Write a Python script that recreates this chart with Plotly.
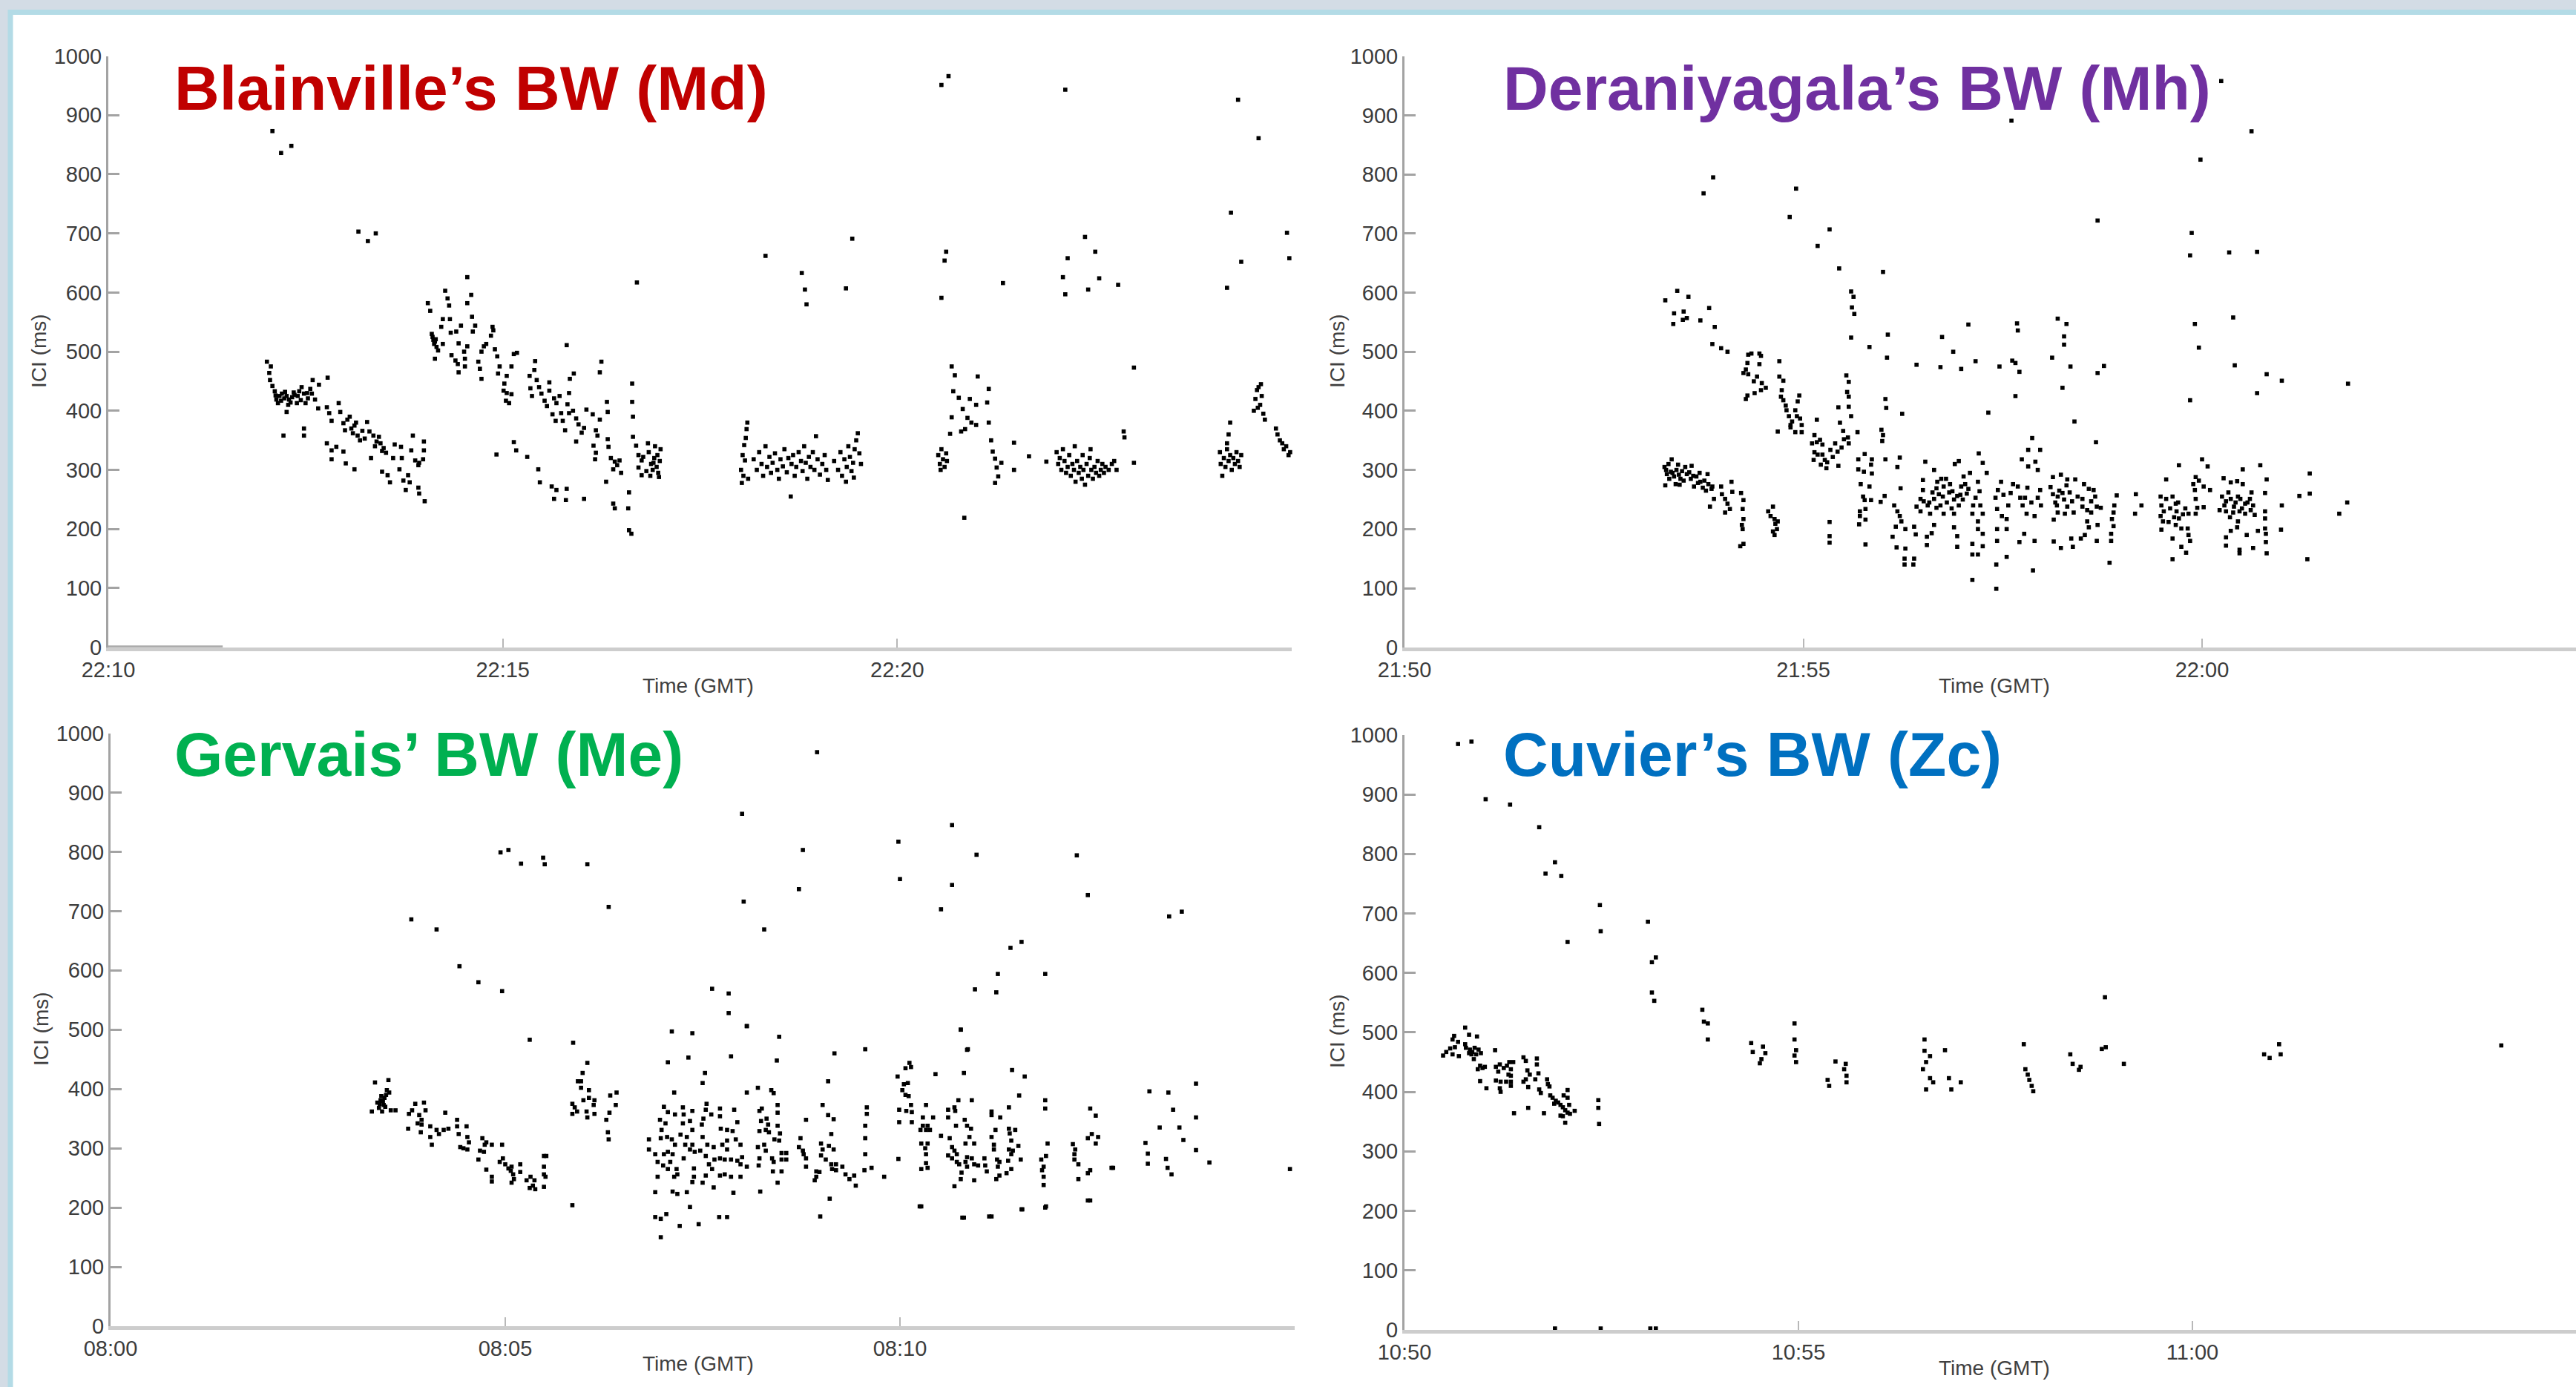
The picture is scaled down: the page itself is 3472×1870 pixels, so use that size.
import plotly.graph_objects as go

W, H = 3472, 1870

# ---------------- tick labels ----------------
TICK_MINUTES = [0, 5, 10]
MD_TICK_LABELS = ["22:10", "22:15", "22:20"]
MH_TICK_LABELS = ["21:50", "21:55", "22:00"]
ME_TICK_LABELS = ["08:00", "08:05", "08:10"]
ZC_TICK_LABELS = ["10:50", "10:55", "11:00"]
ICI_TICKS = [0, 100, 200, 300, 400, 500, 600, 700, 800, 900, 1000]

# ---------------- data: (minutes after first tick, ICI in ms) ----------------
MD_POINTS = [
    (2.08, 873), (2.19, 836), (2.32, 848), (3.17, 703), (3.29, 687), (3.39, 700),
    (2.01, 483), (2.06, 475), (2.04, 464), (2.05, 452), (2.08, 442), (2.11, 433), (2.13, 419), (2.15, 413), (2.20, 429), (2.23, 421),
    (2.26, 425), (2.29, 419), (2.33, 423), (2.36, 427), (2.39, 413), (2.42, 433), (2.45, 440), (2.48, 429), (2.50, 413), (2.53, 421),
    (2.56, 437), (2.59, 452), (2.58, 429), (2.62, 419), (2.67, 444), (2.66, 404), (2.78, 456), (2.26, 398), (2.22, 358), (2.48, 370),
    (2.48, 358), (2.77, 406), (2.80, 396), (2.83, 383), (2.92, 413), (2.94, 398), (2.98, 379), (3.00, 367), (3.06, 390), (3.08, 370),
    (3.12, 375), (3.16, 358), (3.19, 350), (3.28, 381), (3.31, 365), (3.36, 358), (3.40, 348), (3.45, 345), (3.49, 337), (3.52, 329),
    (2.77, 345), (2.83, 333), (2.89, 339), (2.83, 318), (2.98, 331), (3.01, 311), (3.12, 301), (3.33, 320), (3.47, 297), (3.54, 291),
    (3.57, 279), (3.63, 343), (3.61, 320), (3.71, 339), (3.72, 320), (3.69, 301), (3.74, 282), (3.77, 266), (3.80, 291), (3.82, 279),
    (3.86, 358), (3.84, 333), (3.89, 316), (3.94, 312), (3.93, 308), (3.99, 318), (4.00, 348), (4.00, 333), (3.93, 270), (3.94, 260),
    (4.01, 247), (2.17, 425), (2.19, 417), (2.24, 432), (2.31, 414), (2.35, 431), (2.40, 425), (2.44, 418), (2.52, 430), (2.12, 426),
    (2.28, 410), (3.03, 385), (3.10, 362), (3.14, 380), (3.22, 366), (3.25, 353), (3.38, 340), (3.43, 356), (3.47, 332),
    (4.05, 582), (4.08, 569), (4.11, 525), (4.14, 517), (4.15, 521), (4.13, 513), (4.24, 513), (4.14, 488), (4.22, 542), (4.24, 555),
    (4.33, 555), (4.27, 603), (4.30, 590), (4.32, 578), (4.34, 532), (4.41, 534), (4.47, 544), (4.55, 626), (4.55, 582), (4.60, 596),
    (4.61, 559), (4.65, 544), (4.62, 534), (4.35, 494), (4.40, 485), (4.43, 479), (4.44, 465), (4.44, 514), (4.51, 500), (4.52, 488),
    (4.52, 475), (4.55, 509), (4.69, 483), (4.71, 471), (4.73, 454), (4.73, 500), (4.76, 509), (4.79, 513), (4.87, 542), (4.88, 536),
    (4.85, 527), (4.90, 504), (4.93, 492), (4.96, 475), (4.94, 463), (5.05, 459), (5.02, 446), (5.01, 434), (5.05, 430), (5.11, 428),
    (5.08, 413), (5.04, 417), (5.14, 496), (5.18, 498), (5.11, 475), (5.34, 459), (5.40, 469), (5.41, 484), (5.43, 452), (5.35, 438),
    (5.37, 425), (5.46, 440), (5.49, 429), (5.53, 417), (5.56, 408), (5.59, 448), (5.59, 434), (5.65, 421), (5.72, 425), (5.68, 413),
    (5.63, 394), (5.67, 383), (5.74, 396), (5.76, 383), (5.79, 367), (5.84, 396), (5.89, 400), (5.90, 463), (5.85, 454), (5.84, 430),
    (5.82, 411), (5.81, 511), (5.93, 387), (5.96, 377), (6.00, 363), (6.06, 402), (6.14, 394), (5.93, 348), (6.03, 371), (6.18, 367),
    (6.20, 358), (6.23, 385), (6.25, 483), (6.23, 465), (6.32, 415), (6.33, 398), (6.15, 341), (6.18, 329), (6.17, 318), (6.33, 352),
    (6.34, 339), (6.37, 320), (6.42, 314), (6.45, 308), (6.48, 316), (6.50, 295), (6.40, 301), (6.31, 280), (6.64, 446), (6.64, 415),
    (6.65, 390), (6.65, 356), (6.69, 341), (6.72, 325), (6.72, 304), (6.76, 316), (6.76, 291), (6.70, 617), (6.60, 262), (6.59, 235),
    (6.60, 198), (6.63, 192), (6.40, 243), (6.42, 235), (4.12, 520), (4.16, 508), (4.10, 530), (4.18, 502),
    (4.92, 326), (5.14, 347), (5.17, 333), (5.31, 322), (5.45, 301), (5.47, 279), (5.62, 272), (5.68, 266), (5.65, 251), (5.81, 268),
    (5.80, 249), (6.03, 251),
    (6.85, 330), (6.88, 310), (6.90, 300), (6.92, 320), (6.95, 305), (6.97, 295), (6.99, 315), (7.00, 335), (6.87, 290), (6.93, 340),
    (6.82, 298), (6.78, 322), (6.96, 325), (6.98, 288), (6.84, 345), (6.91, 312),
    (8.02, 300), (8.03, 278), (8.04, 325), (8.05, 290), (8.06, 342), (8.08, 354), (8.09, 369), (8.10, 380), (8.07, 316), (8.11, 285),
    (8.18, 318), (8.22, 300), (8.25, 330), (8.28, 310), (8.30, 290), (8.33, 340), (8.35, 305), (8.38, 322), (8.40, 295), (8.42, 312),
    (8.45, 328), (8.48, 300), (8.50, 285), (8.52, 318), (8.55, 306), (8.57, 335), (8.60, 296), (8.62, 320), (8.65, 255), (8.66, 310),
    (8.68, 325), (8.70, 290), (8.72, 305), (8.75, 330), (8.78, 315), (8.80, 298), (8.82, 340), (8.84, 312), (8.86, 285), (8.88, 322),
    (8.90, 305), (8.93, 330), (8.95, 300), (8.97, 357), (8.99, 318), (9.02, 292), (9.05, 310), (9.08, 325), (9.10, 300), (9.12, 283),
    (9.20, 315), (9.25, 300), (9.28, 330), (9.30, 290), (9.33, 318), (9.36, 305), (9.38, 340), (9.40, 322), (9.42, 298), (9.44, 312),
    (9.46, 335), (9.48, 350), (9.50, 362), (9.52, 328), (9.54, 310), (9.35, 280), (9.45, 287),
    (8.33, 662), (8.79, 633), (8.83, 605), (8.85, 580), (9.35, 607), (9.43, 691),
    (10.52, 325), (10.54, 310), (10.56, 335), (10.58, 318), (10.60, 305), (10.62, 328), (10.55, 300), (10.63, 315),
    (10.69, 475), (10.73, 460), (10.71, 433), (10.69, 389), (10.67, 361), (10.78, 422), (10.83, 403), (10.89, 388), (10.94, 380), (10.86, 369),
    (10.92, 420), (11.00, 410), (11.00, 376), (11.16, 437), (11.14, 414), (11.16, 380), (10.81, 365), (11.02, 458),
    (11.21, 331), (11.24, 319), (11.26, 304), (11.28, 289), (11.24, 278), (11.32, 312), (11.19, 350),
    (10.85, 219), (11.48, 300), (11.48, 346), (11.67, 323), (11.89, 314), (11.34, 616),
    (10.56, 951), (10.65, 966), (10.62, 669), (10.60, 654), (10.56, 591),
    (12.02, 330), (12.04, 310), (12.06, 320), (12.08, 300), (12.10, 335), (12.12, 315), (12.14, 295), (12.16, 305), (12.18, 325), (12.20, 290),
    (12.22, 310), (12.24, 300), (12.26, 280), (12.28, 315), (12.30, 295), (12.32, 305), (12.34, 285), (12.36, 300), (12.38, 275), (12.40, 310),
    (12.42, 290), (12.44, 320), (12.46, 300), (12.48, 285), (12.50, 305), (12.52, 295), (12.54, 315), (12.56, 290), (12.58, 300), (12.60, 310),
    (12.25, 340), (12.35, 325), (12.45, 335), (12.62, 295), (12.64, 305), (12.68, 300), (12.72, 310), (12.75, 315), (12.78, 300), (12.87, 365),
    (12.88, 355), (13.00, 312),
    (12.13, 943), (12.16, 658), (12.10, 626), (12.13, 597), (12.38, 694), (12.51, 669), (12.42, 605), (12.56, 624), (12.80, 613), (13.00, 473),
    (14.09, 330), (14.10, 310), (14.12, 290), (14.14, 320), (14.16, 305), (14.18, 335), (14.20, 315), (14.22, 325), (14.24, 300), (14.26, 320),
    (14.28, 310), (14.30, 330), (14.32, 315), (14.34, 305), (14.36, 325), (14.22, 380), (14.20, 360), (14.18, 345),
    (14.52, 400), (14.54, 420), (14.56, 435), (14.58, 440), (14.60, 410), (14.62, 425), (14.64, 395), (14.66, 385), (14.57, 405), (14.61, 445),
    (14.80, 370), (14.82, 360), (14.85, 350), (14.88, 345), (14.90, 335), (14.93, 340), (14.96, 325), (14.98, 330),
    (14.18, 608), (14.23, 735), (14.32, 926), (14.36, 652), (14.58, 861), (14.94, 701), (14.97, 658),
]

MH_POINTS = [
    (3.27, 587), (3.42, 603), (3.56, 593), (3.38, 565), (3.50, 568), (3.49, 554), (3.54, 557), (3.37, 547), (3.71, 553), (3.82, 574),
    (3.89, 542), (3.86, 513), (3.97, 506), (4.05, 500),
    (4.31, 495), (4.35, 497), (4.45, 497), (4.47, 493), (4.45, 479), (4.30, 481), (4.28, 470), (4.31, 462), (4.25, 464), (4.38, 450),
    (4.42, 458), (4.48, 447), (4.53, 439), (4.47, 435), (4.39, 430), (4.30, 426), (4.28, 420),
    (4.70, 484), (4.70, 458), (4.75, 451), (4.73, 435), (4.72, 424), (4.75, 418), (4.78, 409), (4.79, 401), (4.82, 391), (4.86, 382),
    (4.84, 376), (4.90, 401), (4.93, 416), (4.95, 426), (4.92, 391), (4.96, 387), (4.98, 376), (4.84, 372), (4.68, 365), (4.90, 364),
    (4.98, 364),
    (5.17, 385), (5.14, 359), (5.11, 345), (5.17, 347), (5.21, 351), (5.24, 343), (5.14, 330), (5.18, 326), (5.24, 326), (5.27, 317),
    (5.30, 313), (5.34, 334), (5.37, 322), (5.29, 303), (5.22, 309), (5.13, 317), (5.40, 345), (5.43, 331), (5.48, 338), (5.51, 352),
    (5.56, 355), (5.50, 366), (5.46, 380), (5.57, 345), (5.44, 307),
    (5.54, 460), (5.57, 449), (5.55, 432), (5.57, 424), (5.57, 407), (5.60, 391), (5.44, 406),
    (5.60, 602), (5.63, 593), (5.61, 575), (5.64, 564), (5.60, 524), (5.83, 508), (6.06, 529), (6.05, 490),
    (5.68, 364), (5.69, 318), (5.77, 327), (5.86, 318), (5.69, 301), (5.76, 297), (5.85, 309), (5.86, 294), (5.72, 276), (5.83, 272),
    (5.75, 255), (5.77, 249), (5.85, 249), (5.71, 230), (5.78, 234), (5.71, 222), (5.78, 216), (5.70, 208), (5.78, 174), (5.98, 368),
    (6.00, 359), (5.99, 349), (6.03, 318), (6.03, 420), (6.04, 405), (6.24, 395), (6.21, 321), (6.18, 305), (6.22, 269), (6.02, 256),
    (5.97, 246), (5.33, 212), (5.33, 188), (5.33, 177),
    (3.26, 305), (3.29, 293), (3.35, 318), (3.34, 297), (3.38, 289), (3.43, 309), (3.40, 276), (3.46, 285), (3.52, 305), (3.54, 293),
    (3.60, 307), (3.59, 285), (3.63, 272), (3.66, 289), (3.71, 280), (3.74, 270), (3.80, 293), (3.81, 276), (3.85, 268), (3.88, 251),
    (3.83, 238), (3.86, 272), (3.27, 274), (3.97, 272), (3.98, 259), (4.02, 251), (4.05, 243), (4.10, 280), (4.11, 263), (4.08, 234),
    (4.02, 228), (4.22, 261), (4.25, 249), (4.24, 234), (4.25, 217), (4.23, 207), (4.24, 200), (4.21, 171), (4.25, 175),
    (3.28, 300), (3.31, 310), (3.36, 295), (3.41, 300), (3.44, 292), (3.48, 298), (3.50, 282), (3.57, 296), (3.62, 290), (3.68, 278),
    (3.70, 295), (3.76, 282), (3.78, 265), (3.32, 285), (3.45, 275),
    (4.62, 238), (4.56, 230), (4.59, 222), (4.64, 217), (4.65, 209), (4.67, 200), (4.64, 190), (4.62, 196), (4.68, 213),
    (6.14, 240), (6.18, 230), (6.21, 222), (6.23, 213), (6.16, 204), (6.28, 200), (6.12, 187), (6.17, 169), (6.28, 167), (6.27, 150),
    (6.27, 140), (6.39, 150), (6.38, 140), (6.39, 204), (6.41, 191), (6.42, 238), (6.47, 251), (6.50, 266), (6.50, 283), (6.53, 314),
    (6.56, 240), (6.59, 226), (6.64, 251), (6.64, 300), (6.67, 236), (6.64, 207), (6.61, 193), (6.55, 173), (6.55, 187), (6.70, 259),
    (6.73, 285), (6.76, 272), (6.79, 285), (6.84, 276), (6.87, 264), (6.89, 250), (6.93, 256), (6.95, 240), (6.98, 272), (7.03, 276),
    (7.07, 268), (7.01, 289), (6.90, 310), (6.95, 315), (7.09, 295), (6.89, 226), (6.89, 203), (6.93, 188), (6.93, 170), (6.67, 269),
    (6.72, 240), (6.76, 226), (6.51, 247), (6.47, 230), (7.13, 240), (7.16, 253), (7.12, 226), (7.19, 280), (7.21, 264), (7.22, 240),
    (7.25, 226), (7.19, 213), (7.19, 200), (7.25, 192), (7.25, 171), (7.12, 175), (7.12, 157), (7.19, 157), (7.12, 114), (7.20, 328),
    (7.25, 312), (7.30, 295), (7.32, 397), (7.41, 253), (7.44, 266), (7.48, 280), (7.51, 258), (7.43, 234), (7.49, 222), (7.55, 217),
    (7.57, 240), (7.60, 261), (7.69, 272), (7.63, 276), (7.72, 253), (7.75, 240), (7.78, 253), (7.81, 270), (7.80, 226), (7.86, 245),
    (7.90, 222), (7.94, 253), (7.97, 266), (7.98, 240), (7.90, 180), (7.55, 200), (7.43, 200), (7.43, 180), (7.55, 153), (7.42, 140),
    (7.42, 99), (7.71, 178), (7.77, 192), (7.88, 130),
    (6.75, 255), (6.80, 245), (6.83, 262), (6.86, 235), (6.97, 258), (7.00, 250), (7.05, 260), (6.68, 280), (6.62, 262), (6.58, 245),
    (6.42, 478), (6.72, 474), (6.74, 525), (6.88, 500), (6.98, 471), (7.07, 546), (7.16, 484), (7.46, 475), (7.62, 485), (7.66, 481),
    (7.71, 466), (7.68, 548), (7.69, 536), (7.66, 425), (7.87, 354), (7.82, 334), (7.97, 334), (7.74, 318), (7.82, 306), (7.91, 314),
    (7.94, 300),
    (8.19, 556), (8.30, 547), (8.27, 526), (8.27, 512), (8.12, 490), (8.35, 475), (8.69, 464), (8.77, 476), (8.25, 439), (8.40, 382),
    (8.67, 347), (9.85, 418), (9.91, 547), (9.96, 507), (10.39, 558), (10.41, 477), (10.81, 462), (10.69, 430), (11.00, 451), (11.83, 446),
    (8.13, 288), (8.23, 292), (8.10, 271), (8.13, 259), (8.19, 255), (8.25, 261), (8.31, 284), (8.30, 274), (8.41, 284), (8.52, 276),
    (8.37, 247), (8.31, 238), (8.19, 228), (8.14, 216), (8.28, 226), (8.39, 228), (8.50, 251), (8.50, 238), (8.58, 268), (8.64, 266),
    (8.66, 255), (8.61, 247), (8.56, 232), (8.61, 228), (8.68, 238), (8.73, 236), (8.56, 213), (8.58, 203), (8.69, 207), (8.53, 190),
    (8.48, 184), (8.36, 184), (8.14, 179), (8.23, 168), (8.38, 170), (8.68, 180), (8.93, 257), (8.90, 240), (8.89, 228), (8.87, 217),
    (8.89, 205), (8.86, 192), (8.86, 180), (8.84, 143), (9.17, 259), (9.24, 240), (9.16, 226),
    (8.16, 245), (8.21, 265), (8.27, 250), (8.34, 262), (8.44, 255), (8.18, 240),
    (9.48, 255), (9.49, 240), (9.52, 230), (9.48, 222), (9.51, 213), (9.49, 199), (9.55, 251), (9.63, 255), (9.67, 243), (9.68, 230),
    (9.71, 218), (9.67, 207), (9.74, 201), (9.79, 235), (9.83, 226), (9.82, 201), (9.83, 190), (9.85, 180), (9.63, 184), (9.74, 170),
    (9.80, 160), (9.63, 149), (9.71, 308), (9.55, 284), (9.92, 288), (9.89, 276), (9.91, 266), (9.96, 282), (10.02, 272), (10.10, 266),
    (10.00, 318), (10.07, 306), (9.92, 251), (9.94, 236), (10.02, 237), (9.92, 226),
    (9.60, 235), (9.65, 220), (9.70, 245), (9.76, 225), (9.58, 212),
    (10.27, 286), (10.36, 279), (10.44, 281), (10.51, 276), (10.51, 301), (10.73, 308), (10.81, 284), (10.25, 255), (10.30, 247), (10.36, 251),
    (10.42, 245), (10.48, 251), (10.54, 243), (10.60, 251), (10.64, 240), (10.22, 232), (10.30, 230), (10.39, 228), (10.47, 230), (10.54, 226),
    (10.61, 232), (10.66, 224), (10.45, 213), (10.44, 203), (10.36, 197), (10.56, 190), (10.70, 197), (10.30, 186), (10.30, 172), (10.47, 165),
    (10.47, 159), (10.64, 168), (10.79, 230), (10.79, 218), (10.79, 201), (10.80, 192), (10.80, 178), (10.81, 159), (10.79, 261), (11.00, 240),
    (10.99, 199), (11.22, 256), (11.35, 294), (11.35, 260), (11.32, 149), (11.72, 226), (11.82, 245),
    (10.28, 240), (10.33, 262), (10.40, 238), (10.45, 255), (10.50, 235), (10.57, 245), (10.62, 262), (10.35, 220),
    (3.75, 768), (3.87, 795), (4.91, 776), (4.83, 728), (5.18, 679), (5.33, 707), (5.45, 641), (6.00, 635), (7.61, 891), (8.69, 722),
    (10.24, 958), (9.98, 825), (10.62, 873), (9.87, 701), (9.85, 663), (10.34, 668), (10.69, 669),
]

ME_POINTS = [
    (3.35, 411), (3.52, 415), (3.31, 362), (3.38, 377), (3.42, 381), (3.46, 373), (3.49, 390), (3.50, 398), (3.53, 394), (3.44, 362),
    (3.47, 385), (3.55, 364), (3.61, 364), (3.41, 375), (3.40, 368), (3.45, 380), (3.48, 370), (3.43, 388),
    (3.78, 358), (3.82, 364), (3.86, 375), (3.97, 377), (3.99, 364), (3.91, 356), (3.94, 348), (3.89, 342), (3.94, 340), (3.77, 333),
    (3.93, 327), (4.05, 337), (4.05, 319), (4.07, 306), (4.13, 331), (4.16, 324), (4.24, 360), (4.22, 331), (4.28, 333), (4.39, 348),
    (4.39, 337), (4.41, 324), (4.51, 337), (4.52, 319), (4.54, 310), (4.43, 302), (4.47, 300), (4.52, 298), (4.71, 317), (4.74, 306),
    (4.76, 310), (4.68, 296), (4.73, 294), (4.66, 281), (4.83, 306), (4.96, 306), (4.76, 264), (4.83, 252), (4.83, 244), (4.93, 277),
    (4.97, 283), (5.00, 273), (5.04, 266), (5.07, 262), (5.10, 256), (5.08, 269), (5.11, 248), (5.19, 273), (5.19, 260), (5.08, 242),
    (5.27, 246), (5.32, 252), (5.37, 246), (5.31, 233), (5.38, 231), (5.35, 237), (5.49, 287), (5.52, 287), (5.49, 269), (5.49, 256),
    (5.51, 252), (5.49, 235), (5.31, 483), (5.86, 478), (6.04, 444), (5.98, 427), (5.92, 413), (5.96, 413), (5.96, 402), (6.06, 398),
    (5.99, 381), (6.06, 385), (5.85, 375), (5.88, 369), (5.91, 362), (5.85, 358), (6.03, 362), (6.04, 352), (6.13, 381), (6.13, 358),
    (6.12, 373), (6.33, 389), (6.41, 394), (6.40, 373), (6.32, 360), (6.28, 348), (6.30, 327), (6.31, 315), (5.85, 204),
    (7.11, 497), (7.37, 494), (8.06, 506), (7.86, 455), (7.32, 453), (7.06, 445), (7.53, 427), (7.50, 410), (7.14, 394), (8.06, 394),
    (7.01, 370), (7.06, 361), (7.15, 357), (7.25, 369), (7.26, 357), (7.37, 363), (7.55, 375), (7.54, 365), (7.72, 367), (7.72, 354),
    (7.90, 365), (7.94, 344), (6.96, 348), (7.03, 342), (7.25, 342), (7.34, 346), (7.37, 331), (7.49, 340), (7.51, 350), (7.61, 357),
    (7.73, 333), (7.81, 331), (7.88, 329), (6.98, 331), (6.82, 315), (6.82, 298), (6.97, 317), (7.05, 319), (7.11, 315), (7.15, 306),
    (7.22, 323), (7.30, 319), (7.28, 306), (7.37, 306), (7.50, 319), (7.56, 306), (7.64, 302), (7.75, 306), (7.81, 313), (7.92, 315),
    (7.98, 306), (6.90, 290), (6.93, 277), (7.01, 290), (7.06, 294), (7.12, 290), (7.09, 277), (7.00, 271), (7.17, 265), (7.26, 283),
    (7.34, 298), (7.40, 294), (7.47, 296), (7.54, 287), (7.58, 273), (7.65, 281), (7.72, 283), (7.78, 281), (7.81, 298), (7.86, 281),
    (7.94, 279), (8.00, 285), (7.98, 273), (8.06, 269), (6.93, 252), (7.06, 265), (7.14, 252), (7.18, 256), (7.39, 266), (7.39, 252),
    (7.37, 243), (7.50, 242), (7.54, 254), (7.62, 265), (7.72, 254), (7.78, 256), (7.86, 252), (7.98, 252), (6.90, 226), (7.12, 227),
    (7.18, 223), (7.30, 226), (7.64, 234), (7.89, 225), (7.34, 201), (6.90, 184), (6.97, 181), (7.04, 189), (7.21, 169), (7.45, 172),
    (7.71, 184), (7.81, 184), (6.97, 150),
    (8.47, 488), (8.44, 448), (9.17, 460), (9.56, 467), (9.09, 413), (8.20, 402), (8.37, 398), (8.40, 393), (8.45, 373), (8.45, 360),
    (8.25, 367), (8.22, 363), (8.31, 350), (8.24, 346), (8.33, 340), (8.30, 331), (8.34, 327), (8.22, 329), (8.45, 338), (8.48, 325),
    (8.41, 315), (8.47, 313), (8.28, 306), (8.20, 302), (8.30, 296), (8.22, 283), (8.38, 283), (8.40, 277), (8.50, 292), (8.56, 292),
    (8.50, 281), (8.56, 281), (8.21, 271), (8.39, 261), (8.50, 261), (8.45, 242), (8.23, 227), (8.81, 348), (8.74, 317), (8.72, 302),
    (8.77, 296), (8.78, 290), (8.81, 283), (8.81, 269), (9.02, 373), (9.09, 356), (9.16, 349), (9.13, 324), (9.00, 308), (9.10, 304),
    (9.16, 298), (9.02, 298), (9.00, 288), (9.06, 281), (9.13, 273), (9.19, 273), (9.14, 265), (9.19, 263), (9.27, 269), (8.94, 261),
    (8.98, 260), (8.94, 252), (8.92, 246), (9.31, 256), (9.36, 248), (9.42, 254), (9.44, 237), (9.11, 215), (8.99, 185), (9.58, 369),
    (9.58, 358), (9.56, 338), (9.56, 317), (9.56, 290), (9.55, 263), (9.64, 267), (9.80, 252), (9.97, 421), (10.07, 435), (10.12, 444),
    (10.14, 437), (10.05, 408), (10.10, 410), (10.03, 398), (10.07, 390), (10.11, 388), (10.14, 373), (9.99, 365), (10.08, 363), (10.15, 361),
    (9.99, 344), (10.15, 344), (9.98, 282), (10.33, 373), (10.29, 352), (10.42, 352), (10.29, 338), (10.35, 338), (10.26, 331), (10.33, 331),
    (10.38, 331), (10.27, 308), (10.35, 308), (10.32, 300), (10.33, 290), (10.33, 275), (10.27, 265), (10.35, 267), (10.27, 202), (10.45, 425),
    (10.52, 321), (10.61, 365), (10.69, 369), (10.61, 352), (10.70, 363), (10.71, 338), (10.63, 317), (10.66, 302), (10.69, 296), (10.61, 288),
    (10.66, 283), (10.72, 290), (10.72, 277), (10.75, 273), (10.74, 381), (10.77, 500), (10.86, 467), (10.81, 427), (10.91, 381), (10.82, 348),
    (10.85, 338), (10.90, 333), (10.88, 319), (10.83, 308), (10.94, 308), (10.85, 285), (10.91, 283), (10.83, 277), (10.94, 273), (10.99, 271),
    (10.85, 269), (10.78, 259), (10.77, 248), (10.94, 246), (10.69, 236), (10.81, 183), (11.07, 283), (11.08, 271), (11.10, 261), (11.16, 362),
    (11.16, 356), (11.27, 352), (11.21, 331), (11.16, 319), (11.19, 306), (11.19, 298), (11.23, 281), (11.26, 277), (11.24, 269), (11.26, 254),
    (11.22, 248), (11.16, 185), (11.42, 432), (11.58, 421), (11.51, 389), (11.38, 369), (11.38, 333), (11.46, 331), (11.39, 325), (11.41, 313),
    (11.50, 304), (11.38, 298), (11.43, 296), (11.41, 290), (11.37, 279), (11.53, 281), (11.41, 265), (11.35, 258), (11.55, 197), (11.84, 381),
    (11.84, 367), (11.87, 308), (11.85, 287), (11.79, 281), (11.82, 269), (11.80, 263), (11.82, 252), (11.82, 238), (11.85, 202), (12.19, 307),
    (12.22, 298), (12.21, 290), (12.21, 281), (12.26, 273), (12.26, 248), (12.41, 367), (12.48, 355), (12.38, 317), (12.43, 324), (12.51, 319),
    (12.48, 308), (12.41, 263), (12.38, 258), (12.41, 212), (12.70, 267),
    (3.81, 686), (4.13, 669), (4.42, 607), (4.66, 580), (4.96, 565), (4.94, 799), (5.04, 803), (5.20, 780), (5.48, 790), (5.50, 779),
    (6.04, 779), (6.31, 707), (8.95, 968), (8.00, 864), (8.77, 803), (8.72, 737), (8.02, 716), (8.28, 669), (7.62, 569), (7.83, 561),
    (7.83, 528), (8.06, 506), (9.98, 817), (10.00, 754), (10.66, 845), (10.66, 744), (10.97, 795), (10.52, 703), (11.40, 638), (11.54, 648),
    (11.24, 594), (11.84, 594), (10.95, 568), (11.22, 563), (10.77, 500), (10.85, 466), (12.24, 794), (12.38, 727), (13.41, 691), (13.57, 699),
    (14.94, 265), (13.92, 276), (13.75, 409), (13.16, 396), (13.40, 394), (13.46, 365), (13.29, 335), (13.54, 335), (13.59, 314), (13.75, 352),
    (13.75, 297), (13.11, 309), (13.14, 291), (13.14, 274), (13.37, 282), (13.39, 267), (13.44, 256), (12.68, 267), (10.25, 202), (10.79, 183),
    (11.13, 185), (11.54, 197), (11.84, 200), (12.38, 212),
]

ZC_POINTS = [
    (0.77, 508), (0.63, 494), (0.82, 496), (0.92, 493), (0.61, 488), (0.68, 484), (0.58, 473), (0.64, 475), (0.53, 467), (0.49, 461),
    (0.61, 463), (0.69, 460), (0.77, 480), (0.78, 474), (0.83, 471), (0.86, 467), (0.89, 474), (0.94, 471), (0.97, 465), (0.91, 463),
    (0.85, 463), (0.82, 465), (0.88, 455), (1.15, 470), (0.96, 444), (0.99, 440), (0.93, 438), (1.02, 442), (0.96, 418), (1.04, 406),
    (1.16, 442), (1.21, 446), (1.19, 434), (1.26, 440), (1.30, 444), (1.33, 450), (1.38, 450), (1.35, 438), (1.32, 429), (1.35, 427),
    (1.16, 419), (1.22, 417), (1.29, 417), (1.35, 417), (1.35, 410), (1.21, 406), (1.22, 400), (1.51, 458), (1.54, 452), (1.56, 436),
    (1.59, 429), (1.54, 421), (1.51, 417), (1.57, 408), (1.68, 456), (1.68, 446), (1.70, 431), (1.66, 421), (1.71, 404), (1.73, 398),
    (1.81, 421), (1.82, 413), (1.84, 409), (1.85, 394), (1.88, 390), (1.92, 385), (1.95, 382), (1.98, 378), (2.01, 374), (1.90, 380),
    (2.04, 369), (2.07, 365), (2.10, 363), (2.01, 359), (1.98, 360), (2.04, 348), (2.07, 403), (2.02, 394), (2.07, 390), (2.09, 378),
    (2.16, 368), (1.39, 364), (1.57, 373), (1.77, 364), (2.46, 386), (2.46, 373), (2.47, 346),
    (0.68, 985), (0.85, 989), (1.03, 892), (1.34, 883), (1.71, 845), (1.79, 767), (1.91, 786), (1.99, 763), (2.07, 652), (2.48, 714),
    (2.49, 670), (3.09, 686), (3.14, 618), (3.19, 626), (3.14, 567), (3.17, 553), (3.78, 538), (3.80, 518), (3.85, 515), (3.85, 488),
    (4.40, 482), (4.42, 467), (4.53, 455), (4.55, 476), (4.58, 465), (4.51, 448), (4.95, 515), (4.95, 488), (4.95, 461), (4.97, 450),
    (4.97, 470), (5.37, 420), (5.39, 410), (5.47, 451), (5.60, 447), (5.58, 438), (5.61, 427), (5.61, 416), (6.60, 488), (6.60, 469),
    (6.62, 450), (6.67, 460), (6.58, 438), (6.67, 423), (6.71, 416), (6.62, 404), (6.86, 470), (6.91, 423), (6.94, 404), (7.06, 416),
    (7.86, 480), (7.88, 438), (7.91, 429), (7.93, 420), (7.96, 410), (7.98, 401), (8.45, 463), (8.48, 447), (8.56, 437), (8.58, 442),
    (8.85, 472), (8.90, 475), (8.89, 559), (9.13, 447), (10.91, 463), (10.98, 457), (11.10, 480), (11.12, 463), (13.92, 478),
    (1.91, 2), (2.49, 2), (3.12, 2), (3.19, 2),
]

# ---------------- figure ----------------
FONT = "Liberation Sans, Arial, Helvetica, sans-serif"


def fx(p):
    return p / W


def fy(p):
    return 1 - p / H


panels = [
    dict(pts=MD_POINTS, ticks=MD_TICK_LABELS, title="Blainville’s BW (Md)", color="#C00000",
         x0=146, x1=1741, xmax=15.0, ytop=75.5, ybot=872.7, tx=233, ty=119, ylab=(52, 473), xlab=(941, 924)),
    dict(pts=MH_POINTS, ticks=MH_TICK_LABELS, title="Deraniyagala’s BW (Mh)", color="#7030A0",
         x0=1893, x1=3472, xmax=(3472 - 1893) / 107.5, ytop=75.8, ybot=872.7, tx=2024, ty=119, ylab=(1802, 473), xlab=(2688, 924)),
    dict(pts=ME_POINTS, ticks=ME_TICK_LABELS, title="Gervais’ BW (Me)", color="#00B050",
         x0=149, x1=1745, xmax=15.0, ytop=988.5, ybot=1788, tx=233, ty=1017, ylab=(55, 1387), xlab=(941, 1838)),
    dict(pts=ZC_POINTS, ticks=ZC_TICK_LABELS, title="Cuvier’s BW (Zc)", color="#0070C0",
         x0=1893, x1=3472, xmax=(3472 - 1893) / 106.2, ytop=991, ybot=1792.7, tx=2024, ty=1017, ylab=(1802, 1390), xlab=(2688, 1844)),
]

fig = go.Figure()
annotations = []
shapes = [
    dict(type="rect", xref="paper", yref="paper", x0=fx(14), x1=fx(W + 20), y0=fy(16.5), y1=fy(H + 20),
         fillcolor="white", line=dict(color="#b3dbe6", width=7), layer="below"),
]
layout_axes = {}

for i, p in enumerate(panels, start=1):
    xs = [t for t, _ in p["pts"]]
    ys = [v for _, v in p["pts"]]
    xa = "x" if i == 1 else f"x{i}"
    ya = "y" if i == 1 else f"y{i}"
    fig.add_trace(go.Scatter(
        x=xs, y=ys, mode="markers", xaxis=xa, yaxis=ya,
        marker=dict(symbol="square", size=5.6, color="black", line=dict(width=0)),
        cliponaxis=False, showlegend=False, hoverinfo="skip",
    ))
    xkey = "xaxis" if i == 1 else f"xaxis{i}"
    ykey = "yaxis" if i == 1 else f"yaxis{i}"
    layout_axes[xkey] = dict(
        domain=[fx(p["x0"]), fx(p["x1"])], range=[0, p["xmax"]], anchor=ya, automargin=False,
        showline=True, linecolor="#cdcdcd", linewidth=5, showgrid=False, zeroline=False,
        ticks="inside", ticklen=12, tickwidth=2, tickcolor="#b8b8b8",
        tickvals=TICK_MINUTES, ticktext=p["ticks"],
        tickfont=dict(family=FONT, size=29, color="#3c3c3c"), fixedrange=True,
    )
    layout_axes[ykey] = dict(
        domain=[fy(p["ybot"]), fy(p["ytop"])], range=[0, 1000], anchor=xa, automargin=False,
        showline=True, linecolor="#a3a3a3", linewidth=3, showgrid=False, zeroline=False,
        ticks="inside", ticklen=15, tickwidth=3, tickcolor="#a3a3a3",
        tickvals=ICI_TICKS, tickfont=dict(family=FONT, size=29, color="#3c3c3c"), fixedrange=True,
    )
    annotations.append(dict(
        text=p["title"], xref="paper", yref="paper", x=fx(p["tx"]), y=fy(p["ty"]),
        xanchor="left", yanchor="middle", showarrow=False,
        font=dict(family=FONT, size=84, color=p["color"], weight="bold"),
    ))
    annotations.append(dict(
        text="ICI (ms)", xref="paper", yref="paper", x=fx(p["ylab"][0]), y=fy(p["ylab"][1]),
        xanchor="center", yanchor="middle", textangle=-90, showarrow=False,
        font=dict(family=FONT, size=28, color="#404040"),
    ))
    annotations.append(dict(
        text="Time (GMT)", xref="paper", yref="paper", x=fx(p["xlab"][0]), y=fy(p["xlab"][1]),
        xanchor="center", yanchor="middle", showarrow=False,
        font=dict(family=FONT, size=28, color="#404040"),
    ))

# darker stretch of the first panel's time axis
shapes.append(dict(type="line", xref="x", yref="y", x0=0, x1=1.45, y0=0, y1=0,
                   line=dict(color="#a9a9a9", width=5), layer="above"))

fig.update_layout(
    width=W, height=H, autosize=False,
    margin=dict(l=0, r=0, t=0, b=0, pad=0, autoexpand=False),
    paper_bgcolor="#d3dce5", plot_bgcolor="white",
    font=dict(family=FONT, color="#404040"),
    annotations=annotations, shapes=shapes, showlegend=False,
    **layout_axes,
)

fig.write_html(
    "out.html",
    config={"responsive": False, "displayModeBar": False},
    post_script="document.body.style.margin='0';document.body.style.padding='0';"
                "document.documentElement.style.overflow='hidden';",
)
